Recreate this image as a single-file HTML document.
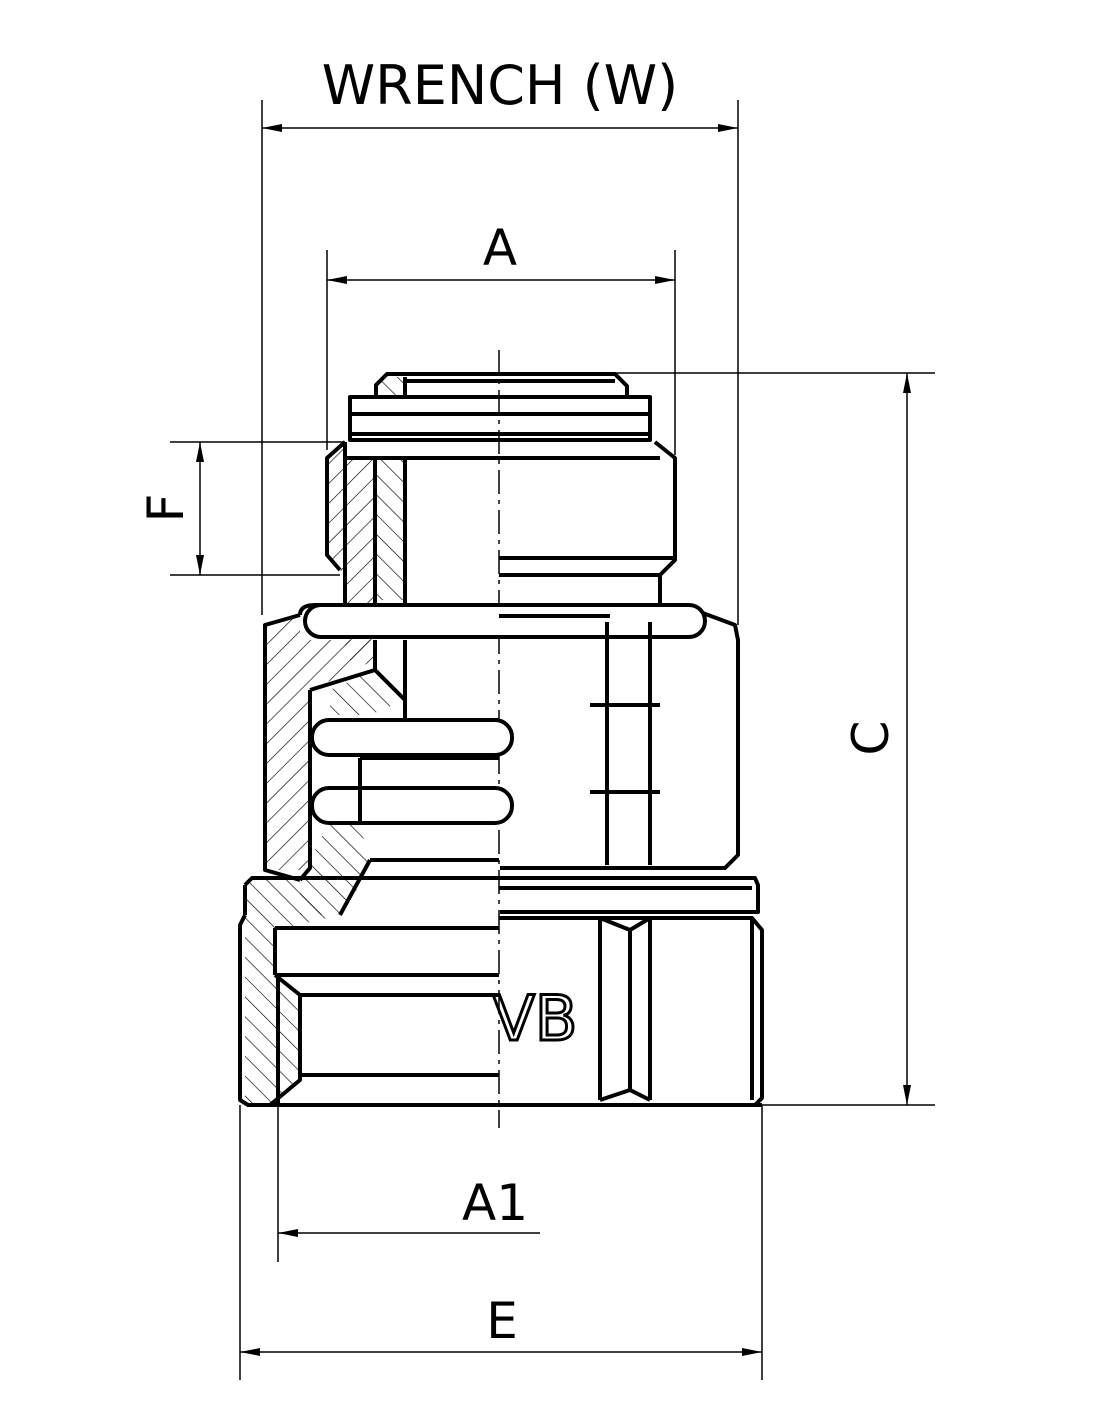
<!DOCTYPE html>
<html><head><meta charset="utf-8"><style>
html,body{margin:0;padding:0;background:#fff}
svg{display:block}
text{font-family:"DejaVu Sans","Liberation Sans",sans-serif;fill:#000}
</style></head><body>
<svg width="1100" height="1422" viewBox="0 0 1100 1422" xmlns="http://www.w3.org/2000/svg">
<defs>
<pattern id="h1" width="14" height="14" patternUnits="userSpaceOnUse" patternTransform="rotate(45)"><line x1="0" y1="0" x2="0" y2="14" stroke="#000" stroke-width="1.3"/></pattern>
<pattern id="h2" width="14" height="14" patternUnits="userSpaceOnUse" patternTransform="rotate(-45)"><line x1="0" y1="0" x2="0" y2="14" stroke="#000" stroke-width="1.3"/></pattern>
<marker id="ar" viewBox="0 0 20 10" refX="20" refY="5" markerWidth="20" markerHeight="10" orient="auto-start-reverse" markerUnits="userSpaceOnUse"><path d="M0,1 L20,5 L0,9 Z" fill="#000"/></marker>
</defs>

<text x="500" y="104" font-size="54" text-anchor="middle">WRENCH (W)</text>
<text x="500" y="265" font-size="50" text-anchor="middle">A</text>
<text x="495" y="1220" font-size="50" text-anchor="middle">A1</text>
<text x="502" y="1338" font-size="50" text-anchor="middle">E</text>
<text transform="translate(888,738) rotate(-90)" font-size="50" text-anchor="middle">C</text>
<text transform="translate(183,508) rotate(-90)" font-size="50" text-anchor="middle">F</text>

<g stroke="#000" stroke-width="1.5" fill="none">
<line x1="262" y1="100" x2="262" y2="615"/>
<line x1="738" y1="100" x2="738" y2="625"/>
<line x1="327" y1="250" x2="327" y2="450"/>
<line x1="675" y1="250" x2="675" y2="455"/>
<line x1="500" y1="373" x2="935" y2="373"/>
<line x1="760" y1="1105" x2="935" y2="1105"/>
<line x1="170" y1="442" x2="345" y2="442"/>
<line x1="170" y1="575" x2="340" y2="575"/>
<line x1="278" y1="1105" x2="278" y2="1262"/>
<line x1="240" y1="1105" x2="240" y2="1380"/>
<line x1="762" y1="1105" x2="762" y2="1380"/>
<line x1="262" y1="128" x2="738" y2="128" marker-start="url(#ar)" marker-end="url(#ar)"/>
<line x1="327" y1="280" x2="675" y2="280" marker-start="url(#ar)" marker-end="url(#ar)"/>
<line x1="907" y1="373" x2="907" y2="1105" marker-start="url(#ar)" marker-end="url(#ar)"/>
<line x1="200" y1="442" x2="200" y2="575" marker-start="url(#ar)" marker-end="url(#ar)"/>
<line x1="540" y1="1233" x2="278" y2="1233" marker-end="url(#ar)"/>
<line x1="240" y1="1352" x2="762" y2="1352" marker-start="url(#ar)" marker-end="url(#ar)"/>
<line x1="499" y1="350" x2="499" y2="1128" stroke-dasharray="24,6,4,6"/>
</g>

<g stroke="none">
<polygon points="376,385 387,377 405,377 405,396 376,396" fill="url(#h2)"/>
<polygon points="327,455 338,445 345,445 345,575 340,570 327,555" fill="url(#h1)"/>
<polygon points="345,458 375,458 375,640 360,660 345,660" fill="url(#h1)"/>
<polygon points="375,458 405,458 405,600 375,600" fill="url(#h2)"/>
<polygon points="265,625 300,615 300,640 360,640 375,640 375,660 310,690 310,870 265,870" fill="url(#h1)"/>
<polygon points="330,690 375,670 405,700 370,715 330,715" fill="url(#h2)"/>
<polygon points="330,820 360,820 370,870 340,915 300,915 300,880" fill="url(#h2)"/>
<polygon points="245,880 300,880 340,915 275,930 275,975 300,1000 300,1080 270,1105 245,1105" fill="url(#h2)"/>
</g>

<g stroke="#000" stroke-width="4" fill="none" stroke-linejoin="round">
<path d="M376,396 L376,385 L387,374 L615,374 L627,386 L627,396"/>
<line x1="405" y1="377" x2="405" y2="396"/>
<line x1="405" y1="381" x2="615" y2="381"/>
<rect x="350" y="397" width="300" height="43"/>
<line x1="350" y1="414" x2="650" y2="414"/>
<line x1="350" y1="434" x2="650" y2="434"/>
<path d="M345,442 L327,458 L327,555 L340,570"/>
<path d="M345,442 L345,458 L345,605"/>
<path d="M655,442 L675,458 L675,560 L660,575 L660,605"/>
<line x1="375" y1="458" x2="375" y2="605"/>
<line x1="405" y1="458" x2="405" y2="605"/>
<line x1="345" y1="458" x2="660" y2="458"/>
<line x1="499" y1="558" x2="675" y2="558"/>
<line x1="499" y1="575" x2="660" y2="575"/>
<path d="M300,615 Q300,605 315,605 L685,605 L700,612 L735,625 L738,640 L738,855 L725,868 L500,868"/>
<path d="M300,615 L265,625 L265,870 L300,880"/>
<rect x="305" y="605" width="400" height="32" rx="16" fill="#fff"/>
<line x1="499" y1="616" x2="610" y2="616"/>
<line x1="607" y1="622" x2="607" y2="865"/>
<line x1="650" y1="622" x2="650" y2="865"/>
<path d="M590,705 L660,705"/><path d="M590,792 L660,792"/>
<path d="M310,690 L375,670 L405,700 L405,720"/>
<line x1="405" y1="640" x2="405" y2="700"/>
<line x1="375" y1="640" x2="375" y2="670"/>
<line x1="370" y1="720" x2="499" y2="720"/>
<rect x="312" y="720" width="200" height="35" rx="17" fill="#fff"/>
<rect x="312" y="788" width="200" height="35" rx="17" fill="#fff"/>
<line x1="360" y1="758" x2="499" y2="758"/>
<line x1="360" y1="823" x2="360" y2="758"/>
<path d="M300,880 L310,868 L310,690"/>
<path d="M370,860 L340,915"/>
<line x1="370" y1="860" x2="499" y2="860"/>
<path d="M245,885 L252,878 L500,878 L755,878 L758,885 L758,912 L500,912"/>
<line x1="245" y1="885" x2="245" y2="915"/>
<line x1="499" y1="888" x2="752" y2="888"/>
<path d="M245,915 L240,925 L240,1100 L248,1105 L762,1105"/>
<path d="M499,918 L752,918 L762,930 L762,1098 L755,1105"/>
<line x1="752" y1="918" x2="752" y2="1100"/>
<line x1="600" y1="918" x2="600" y2="1100"/>
<line x1="650" y1="918" x2="650" y2="1100"/>
<path d="M600,918 L630,930 L650,918"/>
<path d="M600,1100 L630,1090 L650,1100"/>
<line x1="630" y1="930" x2="630" y2="1090"/>
<line x1="275" y1="928" x2="499" y2="928"/>
<line x1="275" y1="928" x2="275" y2="975"/>
<line x1="275" y1="975" x2="499" y2="975"/>
<path d="M275,975 L300,995 L300,1080 L270,1105"/>
<line x1="300" y1="995" x2="499" y2="995"/>
<line x1="300" y1="1075" x2="499" y2="1075"/>
<line x1="278" y1="1105" x2="278" y2="975"/>
</g>
<text x="535" y="1040" font-size="62" text-anchor="middle" style="fill:none;stroke:#000;stroke-width:3;font-weight:normal">VB</text>
</svg>
</body></html>
